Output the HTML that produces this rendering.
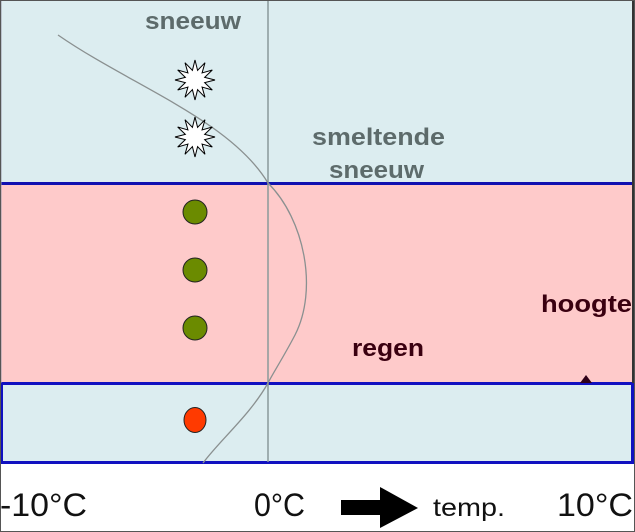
<!DOCTYPE html>
<html><head><meta charset="utf-8"><style>
html,body{margin:0;padding:0;background:#fff;}
svg{display:block;}
</style></head><body>
<svg width="635" height="532" viewBox="0 0 635 532" xmlns="http://www.w3.org/2000/svg">
<defs>
<polygon id="star" points="20,0 9.66,2.59 17.3,10 7.07,7.07 10,17.3 2.59,9.66 0,20 -2.59,9.66 -10,17.3 -7.07,7.07 -17.3,10 -9.66,2.59 -20,0 -9.66,-2.59 -17.3,-10 -7.07,-7.07 -10,-17.3 -2.59,-9.66 0,-20 2.59,-9.66 10,-17.3 7.07,-7.07 17.3,-10 9.66,-2.59" fill="#fff" stroke="#000" stroke-width="1"/>
</defs>
<rect x="0" y="0" width="635" height="183" fill="#dcedf0"/>
<rect x="0" y="183" width="635" height="200" fill="#fecaca"/>
<rect x="1.5" y="383.5" width="631" height="79" fill="#dcedf0" stroke="#1010c0" stroke-width="3"/>
<line x1="0" y1="183.5" x2="632" y2="183.5" stroke="#1010b0" stroke-width="3"/>
<line x1="633" y1="0" x2="633" y2="383" stroke="#333" stroke-width="2"/>
<line x1="1" y1="0" x2="1" y2="383" stroke="#99a" stroke-width="1"/>
<line x1="268" y1="0" x2="268" y2="462" stroke="#8a9a9a" stroke-width="1.5"/>
<path d="M58,35 C130,85 230,120 268,183 C305,220 318,290 295,335 C283,358 273,373 268,383 C250,415 220,440 203,463" fill="none" stroke="#8a9090" stroke-width="1.3"/>
<use href="#star" x="195" y="80"/>
<use href="#star" x="195" y="137"/>
<circle cx="195" cy="212" r="12" fill="#6b8b00" stroke="#222" stroke-width="1"/>
<circle cx="195" cy="270" r="12" fill="#6b8b00" stroke="#222" stroke-width="1"/>
<circle cx="195" cy="328" r="12" fill="#6b8b00" stroke="#222" stroke-width="1"/>
<ellipse cx="195" cy="420" rx="11" ry="12.5" fill="#ff3a00" stroke="#222" stroke-width="1"/>
<polygon points="580,383 586,375 592,383" fill="#300018"/>
<g font-family="Liberation Sans, sans-serif" font-weight="bold" font-size="24">
<text x="145" y="29" fill="#5d6b6b" textLength="96" lengthAdjust="spacingAndGlyphs">sneeuw</text>
<text x="312" y="145" fill="#5d6b6b" textLength="133" lengthAdjust="spacingAndGlyphs">smeltende</text>
<text x="329" y="178" fill="#5d6b6b" textLength="95" lengthAdjust="spacingAndGlyphs">sneeuw</text>
<text x="352" y="356" fill="#3a0010" textLength="72" lengthAdjust="spacingAndGlyphs">regen</text>
<text x="541" y="312" fill="#3a0010" textLength="91" lengthAdjust="spacingAndGlyphs">hoogte</text>
</g>
<g font-family="Liberation Sans, sans-serif" font-size="32" fill="#111">
<text x="0" y="516" textLength="87" lengthAdjust="spacingAndGlyphs">-10°C</text>
<text x="254" y="516" textLength="51" lengthAdjust="spacingAndGlyphs">0°C</text>
<text x="557" y="516" textLength="76" lengthAdjust="spacingAndGlyphs">10°C</text>
</g>
<text x="433" y="516" font-family="Liberation Sans, sans-serif" font-size="25" fill="#111" textLength="72" lengthAdjust="spacingAndGlyphs">temp.</text>
<polygon points="341,500 380,500 380,487 418,508 380,528 380,515 341,515" fill="#000"/>
<rect x="0.5" y="0.5" width="634" height="531" fill="none" stroke="#555" stroke-width="1"/>
</svg>
</body></html>
